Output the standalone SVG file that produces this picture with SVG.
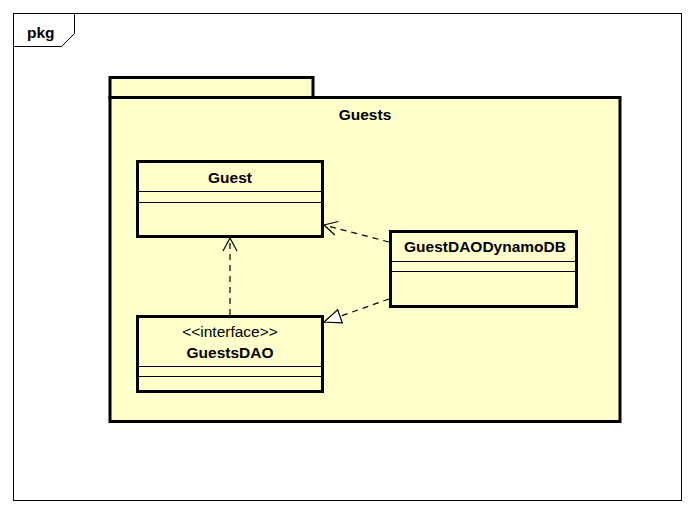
<svg xmlns="http://www.w3.org/2000/svg" width="694" height="514" viewBox="0 0 694 514">
<style>
.t{font-family:"Liberation Sans",Arial,sans-serif;font-size:15.5px;fill:#000}
.b{font-weight:bold}
.box{fill:#FFFFCC;stroke:#000;stroke-width:3}
.sep{stroke:#000;stroke-width:1}
.dash{fill:none;stroke:#000;stroke-width:1.2;stroke-dasharray:6,5}
</style>
<defs>
<marker id="open" markerWidth="16" markerHeight="16" refX="14" refY="8" orient="auto" markerUnits="userSpaceOnUse">
<path d="M1,1 L14,8 L1,15" fill="none" stroke="#000" stroke-width="1.2"/>
</marker>
<marker id="tri" markerWidth="20" markerHeight="20" refX="18" refY="8" orient="auto" markerUnits="userSpaceOnUse">
<path d="M1,1 L18,8 L1,15 Z" fill="#fff" stroke="#000" stroke-width="1.2"/>
</marker>
</defs>
<rect width="694" height="514" fill="#fff"/>
<g id="frame">
<rect x="13.5" y="13.5" width="668" height="487" fill="#fff" stroke="#000" stroke-width="1"/>
<path d="M13.5,46.5 L61.5,46.5 L74.5,33.5 L74.5,13.5" fill="none" stroke="#000" stroke-width="1"/>
<text class="t b" x="27" y="38">pkg</text>
</g>
<g id="pkg-Guests">
<rect class="box" x="110" y="77.5" width="203" height="20"/>
<rect class="box" x="110" y="97.5" width="510" height="324"/>
<text class="t b" x="365" y="120" text-anchor="middle">Guests</text>
</g>
<g id="Guest">
<rect class="box" x="137.5" y="161.5" width="185" height="75"/>
<line class="sep" x1="137" y1="191.5" x2="323" y2="191.5"/>
<line class="sep" x1="137" y1="202.5" x2="323" y2="202.5"/>
<text class="t b" x="230" y="183" text-anchor="middle">Guest</text>
</g>
<g id="GuestsDAO">
<rect class="box" x="137.5" y="316.5" width="185" height="75"/>
<line class="sep" x1="137" y1="366.5" x2="323" y2="366.5"/>
<line class="sep" x1="137" y1="376.5" x2="323" y2="376.5"/>
<text class="t" x="230" y="337" text-anchor="middle">&lt;&lt;interface&gt;&gt;</text>
<text class="t b" x="230" y="358" text-anchor="middle">GuestsDAO</text>
</g>
<g id="GuestDAODynamoDB">
<rect class="box" x="390.5" y="231.5" width="186" height="75"/>
<line class="sep" x1="390" y1="261.5" x2="577" y2="261.5"/>
<line class="sep" x1="390" y1="271.5" x2="577" y2="271.5"/>
<text class="t b" x="485" y="252" text-anchor="middle">GuestDAODynamoDB</text>
</g>
<g id="connectors">
<line class="dash" x1="389" y1="242" x2="324" y2="225" marker-end="url(#open)"/>
<line class="dash" x1="230" y1="315" x2="230" y2="238" marker-end="url(#open)"/>
<line class="dash" x1="389" y1="299" x2="324" y2="322" marker-end="url(#tri)"/>
</g>
</svg>
